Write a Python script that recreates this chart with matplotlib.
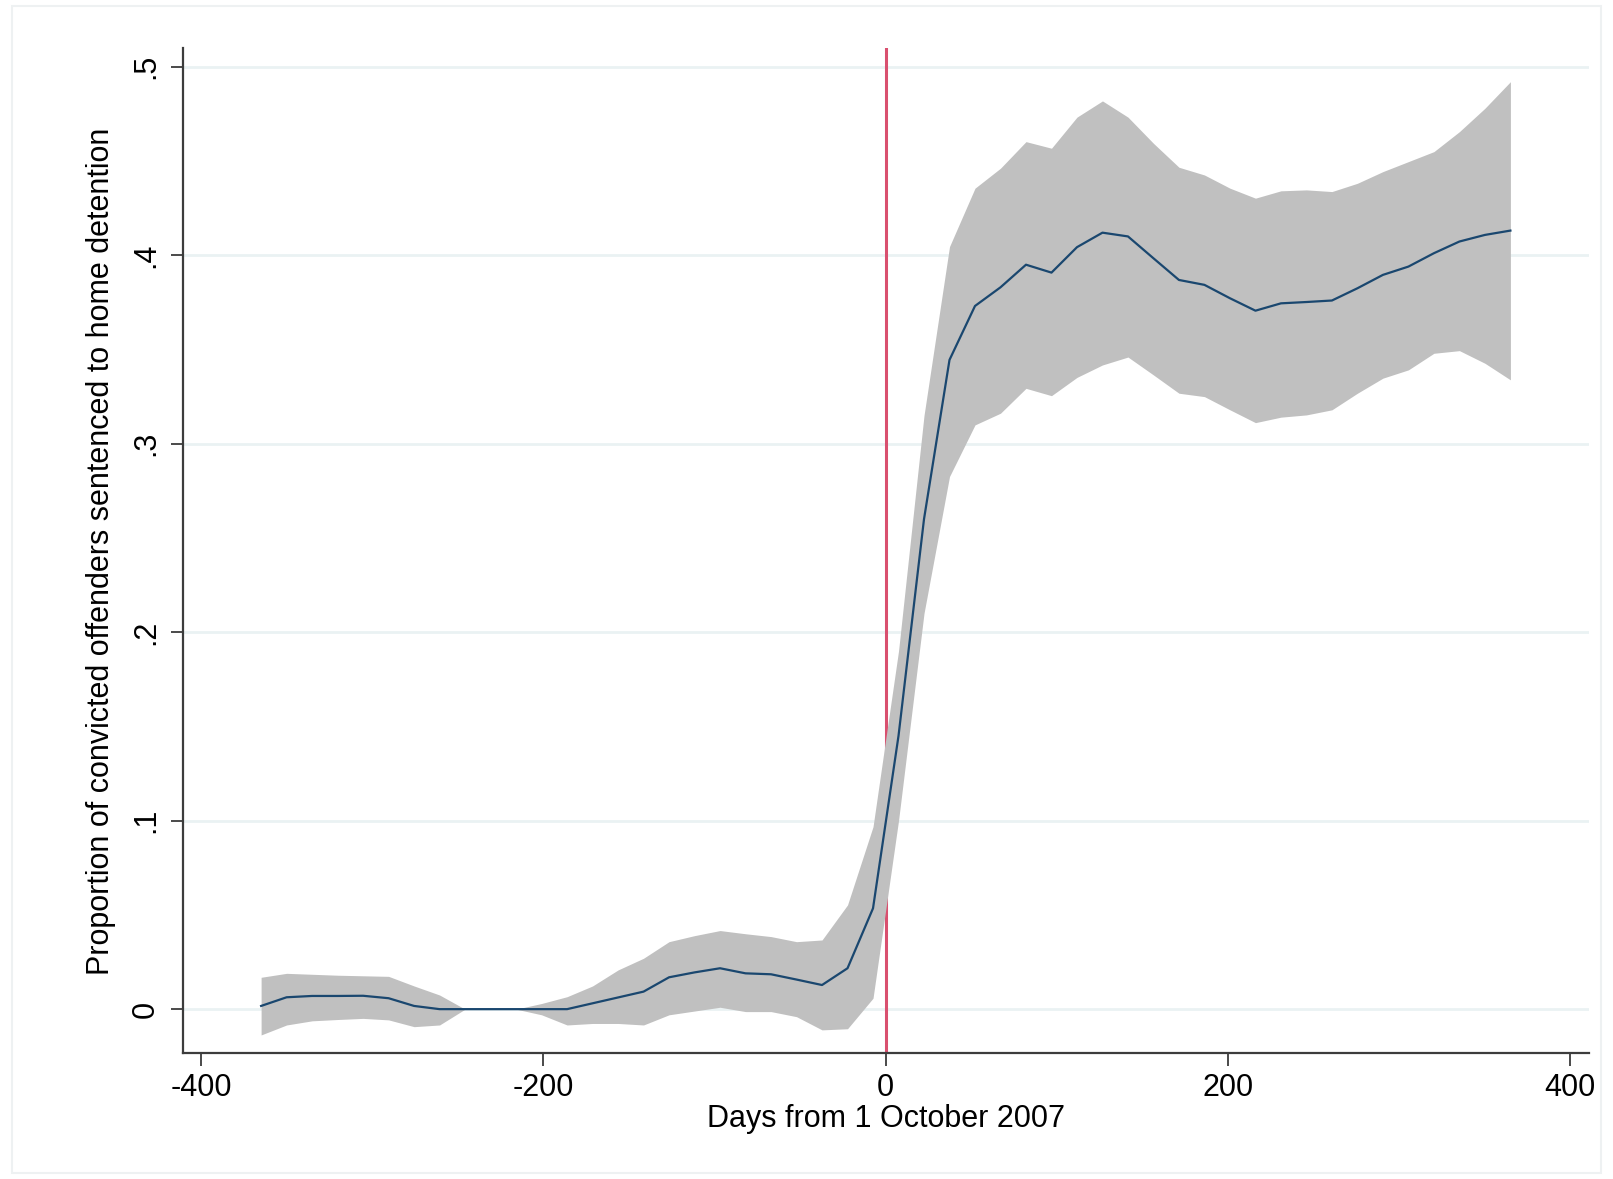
#!/usr/bin/env python3
"""
Home detention share around the 1 October 2007 reform.

Local polynomial estimate (50 grid points) with 95% confidence band.
"""
import matplotlib
matplotlib.use('Agg')
import matplotlib.pyplot as plt
import numpy as np

# Grid of days relative to 1 October 2007 (lpoly default: 50 points)
dias = np.linspace(-365, 365, 50)

# Smoothed proportion sentenced to home detention
media = [0.0017, 0.0063, 0.0070, 0.0070, 0.0071, 0.0058, 0.0017, 0.0000, 0.0000, 0.0000,
         0.0000, 0.0000, 0.0000, 0.0031, 0.0062, 0.0093, 0.0169, 0.0195, 0.0217, 0.0190,
         0.0185, 0.0157, 0.0128, 0.0217, 0.0535, 0.1450, 0.2600, 0.3445, 0.3731, 0.3830,
         0.3950, 0.3908, 0.4043, 0.4120, 0.4100, 0.3984, 0.3869, 0.3843, 0.3772, 0.3706,
         0.3745, 0.3752, 0.3760, 0.3825, 0.3896, 0.3940, 0.4011, 0.4073, 0.4108, 0.4131]

# Upper and lower bounds of the 95% CI
ic_sup = [0.0169, 0.0190, 0.0185, 0.0180, 0.0177, 0.0174, 0.0123, 0.0075, 0.0000, 0.0000,
          0.0000, 0.0030, 0.0066, 0.0123, 0.0208, 0.0270, 0.0358, 0.0390, 0.0417, 0.0400,
          0.0385, 0.0358, 0.0367, 0.0553, 0.0968, 0.1900, 0.3150, 0.4046, 0.4356, 0.4462,
          0.4603, 0.4568, 0.4733, 0.4819, 0.4733, 0.4594, 0.4467, 0.4426, 0.4356, 0.4303,
          0.4342, 0.4347, 0.4338, 0.4382, 0.4444, 0.4497, 0.4550, 0.4656, 0.4780, 0.4921]

ic_inf = [-0.0137, -0.0084, -0.0062, -0.0055, -0.0049, -0.0057, -0.0093, -0.0084, 0.0000, 0.0000,
          0.0000, -0.0030, -0.0084, -0.0076, -0.0076, -0.0084, -0.0030, -0.0010, 0.0010, -0.0013,
          -0.0013, -0.0040, -0.0110, -0.0104, 0.0058, 0.1000, 0.2100, 0.2826, 0.3100, 0.3162,
          0.3294, 0.3255, 0.3352, 0.3418, 0.3460, 0.3365, 0.3268, 0.3250, 0.3180, 0.3112,
          0.3141, 0.3153, 0.3180, 0.3268, 0.3348, 0.3392, 0.3480, 0.3494, 0.3427, 0.3339]

x_ticks = [-400, -200, 0, 200, 400]
y_ticks = [0, 0.1, 0.2, 0.3, 0.4, 0.5]
y_labels = ['0', '.1', '.2', '.3', '.4', '.5']


def gerar_grafico():
    plt.rcParams['font.family'] = ['Liberation Sans', 'DejaVu Sans']

    fig = plt.figure(figsize=(16.13, 11.79), dpi=100)
    ax = fig.add_axes([0.1135, 0.1065, 0.8716, 0.8525])

    # Light frame around the graph region
    fig.patches.append(plt.Rectangle((12 / 1613, 6 / 1179), 1589 / 1613, 1167 / 1179,
                                     transform=fig.transFigure, fill=False,
                                     edgecolor='#eef1f2', linewidth=1.5))

    # Reform date
    ax.axvline(0, color='#d9506f', linewidth=2.2, zorder=1)

    # Confidence band and smoothed line
    ax.fill_between(dias, ic_inf, ic_sup, color='#c0c0c0', linewidth=0, zorder=2)
    ax.plot(dias, media, color='#1a476f', linewidth=1.6, zorder=3)

    ax.set_xlim(-410.6, 410.9)
    ax.set_ylim(-0.0235, 0.5098)

    ax.set_xticks(x_ticks)
    ax.set_xticklabels([str(t) for t in x_ticks])
    ax.set_yticks(y_ticks)
    ax.set_yticklabels(y_labels, rotation=90, va='center')

    ax.grid(True, axis='y', color='#eaf2f3', linewidth=2, zorder=0)
    ax.set_axisbelow(True)

    for lado in ['top', 'right']:
        ax.spines[lado].set_visible(False)
    for lado in ['left', 'bottom']:
        ax.spines[lado].set_color('#3c3c3c')
        ax.spines[lado].set_linewidth(1.6)

    ax.tick_params(axis='both', direction='out', length=9, width=1.3,
                   color='#3c3c3c', labelsize=22, labelcolor='black')
    ax.tick_params(axis='y', pad=7)
    ax.tick_params(axis='x', pad=5)

    ax.set_xlabel('Days from 1 October 2007', fontsize=22, labelpad=1)
    ax.set_ylabel('Proportion of convicted offenders sentenced to home detention',
                  fontsize=22, labelpad=11)

    fig.savefig('out.png', dpi=100, facecolor='white')
    plt.close(fig)


if __name__ == "__main__":
    gerar_grafico()
